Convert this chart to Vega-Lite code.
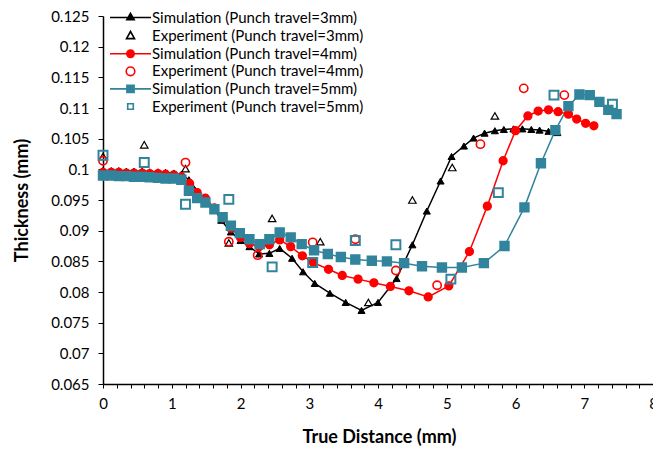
{
  "$schema": "https://vega.github.io/schema/vega-lite/v6.json",
  "width": 550,
  "height": 368,
  "autosize": {"type": "none"},
  "padding": {"left": 103, "top": 16, "right": 0, "bottom": 66},
  "background": "white",
  "config": {
    "view": {"stroke": null},
    "font": "Lato",
    "axis": {"grid": false, "domainColor": "black", "tickColor": "black", "labelColor": "black", "titleColor": "black", "labelFont": "Lato", "titleFont": "Lato"},
    "legend": {
      "title": null,
      "orient": "none",
      "legendX": 20,
      "legendY": -6,
      "padding": 0,
      "symbolSize": 4,
      "symbolOpacity": 1,
      "symbolStrokeWidth": 1.6,
      "labelFont": "Lato",
      "labelFontSize": 15,
      "labelColor": "black",
      "labelOffset": 14,
      "labelLimit": 0,
      "rowPadding": 1.6
    }
  },
  "data": {
    "values": [
      {"s": "Simulation (Punch travel=3mm)", "x": 0, "t": 0.0998},
      {"s": "Simulation (Punch travel=3mm)", "x": 0.12, "t": 0.0998},
      {"s": "Simulation (Punch travel=3mm)", "x": 0.23, "t": 0.0998},
      {"s": "Simulation (Punch travel=3mm)", "x": 0.34, "t": 0.0997},
      {"s": "Simulation (Punch travel=3mm)", "x": 0.45, "t": 0.0997},
      {"s": "Simulation (Punch travel=3mm)", "x": 0.57, "t": 0.0997},
      {"s": "Simulation (Punch travel=3mm)", "x": 0.68, "t": 0.0996},
      {"s": "Simulation (Punch travel=3mm)", "x": 0.8, "t": 0.0996},
      {"s": "Simulation (Punch travel=3mm)", "x": 0.91, "t": 0.0995},
      {"s": "Simulation (Punch travel=3mm)", "x": 1.03, "t": 0.0994},
      {"s": "Simulation (Punch travel=3mm)", "x": 1.14, "t": 0.0992},
      {"s": "Simulation (Punch travel=3mm)", "x": 1.25, "t": 0.0983},
      {"s": "Simulation (Punch travel=3mm)", "x": 1.38, "t": 0.0964},
      {"s": "Simulation (Punch travel=3mm)", "x": 1.49, "t": 0.0951},
      {"s": "Simulation (Punch travel=3mm)", "x": 1.62, "t": 0.0936},
      {"s": "Simulation (Punch travel=3mm)", "x": 1.72, "t": 0.0917},
      {"s": "Simulation (Punch travel=3mm)", "x": 1.86, "t": 0.0898},
      {"s": "Simulation (Punch travel=3mm)", "x": 2.0, "t": 0.0884},
      {"s": "Simulation (Punch travel=3mm)", "x": 2.13, "t": 0.0874},
      {"s": "Simulation (Punch travel=3mm)", "x": 2.27, "t": 0.0862},
      {"s": "Simulation (Punch travel=3mm)", "x": 2.42, "t": 0.0863},
      {"s": "Simulation (Punch travel=3mm)", "x": 2.57, "t": 0.0871},
      {"s": "Simulation (Punch travel=3mm)", "x": 2.75, "t": 0.0855},
      {"s": "Simulation (Punch travel=3mm)", "x": 2.91, "t": 0.0833},
      {"s": "Simulation (Punch travel=3mm)", "x": 3.08, "t": 0.0814},
      {"s": "Simulation (Punch travel=3mm)", "x": 3.3, "t": 0.0798},
      {"s": "Simulation (Punch travel=3mm)", "x": 3.53, "t": 0.0783},
      {"s": "Simulation (Punch travel=3mm)", "x": 3.76, "t": 0.077},
      {"s": "Simulation (Punch travel=3mm)", "x": 4.0, "t": 0.0783},
      {"s": "Simulation (Punch travel=3mm)", "x": 4.27, "t": 0.0822},
      {"s": "Simulation (Punch travel=3mm)", "x": 4.5, "t": 0.0877},
      {"s": "Simulation (Punch travel=3mm)", "x": 4.71, "t": 0.0932},
      {"s": "Simulation (Punch travel=3mm)", "x": 4.91, "t": 0.0981},
      {"s": "Simulation (Punch travel=3mm)", "x": 5.07, "t": 0.1021},
      {"s": "Simulation (Punch travel=3mm)", "x": 5.25, "t": 0.1038},
      {"s": "Simulation (Punch travel=3mm)", "x": 5.39, "t": 0.1051},
      {"s": "Simulation (Punch travel=3mm)", "x": 5.55, "t": 0.1059},
      {"s": "Simulation (Punch travel=3mm)", "x": 5.7, "t": 0.1063},
      {"s": "Simulation (Punch travel=3mm)", "x": 5.83, "t": 0.1065},
      {"s": "Simulation (Punch travel=3mm)", "x": 5.97, "t": 0.1066},
      {"s": "Simulation (Punch travel=3mm)", "x": 6.1, "t": 0.1066},
      {"s": "Simulation (Punch travel=3mm)", "x": 6.23, "t": 0.1065},
      {"s": "Simulation (Punch travel=3mm)", "x": 6.35, "t": 0.1064},
      {"s": "Simulation (Punch travel=3mm)", "x": 6.48, "t": 0.1062},
      {"s": "Simulation (Punch travel=3mm)", "x": 6.61, "t": 0.106},

      {"s": "Experiment (Punch travel=3mm)", "x": 0, "t": 0.1021},
      {"s": "Experiment (Punch travel=3mm)", "x": 0.6, "t": 0.104},
      {"s": "Experiment (Punch travel=3mm)", "x": 1.2, "t": 0.1001},
      {"s": "Experiment (Punch travel=3mm)", "x": 1.83, "t": 0.088},
      {"s": "Experiment (Punch travel=3mm)", "x": 2.46, "t": 0.092},
      {"s": "Experiment (Punch travel=3mm)", "x": 3.16, "t": 0.0882},
      {"s": "Experiment (Punch travel=3mm)", "x": 3.86, "t": 0.0783},
      {"s": "Experiment (Punch travel=3mm)", "x": 4.5, "t": 0.095},
      {"s": "Experiment (Punch travel=3mm)", "x": 5.08, "t": 0.1003},
      {"s": "Experiment (Punch travel=3mm)", "x": 5.7, "t": 0.1087},

      {"s": "Simulation (Punch travel=4mm)", "x": 0, "t": 0.0995},
      {"s": "Simulation (Punch travel=4mm)", "x": 0.12, "t": 0.0995},
      {"s": "Simulation (Punch travel=4mm)", "x": 0.23, "t": 0.0995},
      {"s": "Simulation (Punch travel=4mm)", "x": 0.34, "t": 0.0994},
      {"s": "Simulation (Punch travel=4mm)", "x": 0.45, "t": 0.0994},
      {"s": "Simulation (Punch travel=4mm)", "x": 0.57, "t": 0.0994},
      {"s": "Simulation (Punch travel=4mm)", "x": 0.68, "t": 0.0993},
      {"s": "Simulation (Punch travel=4mm)", "x": 0.8, "t": 0.0993},
      {"s": "Simulation (Punch travel=4mm)", "x": 0.91, "t": 0.0992},
      {"s": "Simulation (Punch travel=4mm)", "x": 1.03, "t": 0.0991},
      {"s": "Simulation (Punch travel=4mm)", "x": 1.14, "t": 0.0988},
      {"s": "Simulation (Punch travel=4mm)", "x": 1.26, "t": 0.0977},
      {"s": "Simulation (Punch travel=4mm)", "x": 1.37, "t": 0.0962},
      {"s": "Simulation (Punch travel=4mm)", "x": 1.49, "t": 0.0953},
      {"s": "Simulation (Punch travel=4mm)", "x": 1.62, "t": 0.0937},
      {"s": "Simulation (Punch travel=4mm)", "x": 1.74, "t": 0.0921},
      {"s": "Simulation (Punch travel=4mm)", "x": 1.86, "t": 0.0904},
      {"s": "Simulation (Punch travel=4mm)", "x": 2.0, "t": 0.0889},
      {"s": "Simulation (Punch travel=4mm)", "x": 2.13, "t": 0.0879},
      {"s": "Simulation (Punch travel=4mm)", "x": 2.27, "t": 0.0874},
      {"s": "Simulation (Punch travel=4mm)", "x": 2.42, "t": 0.0877},
      {"s": "Simulation (Punch travel=4mm)", "x": 2.57, "t": 0.0885},
      {"s": "Simulation (Punch travel=4mm)", "x": 2.73, "t": 0.0874},
      {"s": "Simulation (Punch travel=4mm)", "x": 2.9, "t": 0.0859},
      {"s": "Simulation (Punch travel=4mm)", "x": 3.06, "t": 0.0848},
      {"s": "Simulation (Punch travel=4mm)", "x": 3.28, "t": 0.0837},
      {"s": "Simulation (Punch travel=4mm)", "x": 3.48, "t": 0.0827},
      {"s": "Simulation (Punch travel=4mm)", "x": 3.71, "t": 0.0821},
      {"s": "Simulation (Punch travel=4mm)", "x": 3.94, "t": 0.0815},
      {"s": "Simulation (Punch travel=4mm)", "x": 4.18, "t": 0.0809},
      {"s": "Simulation (Punch travel=4mm)", "x": 4.45, "t": 0.0802},
      {"s": "Simulation (Punch travel=4mm)", "x": 4.73, "t": 0.0792},
      {"s": "Simulation (Punch travel=4mm)", "x": 5.03, "t": 0.081},
      {"s": "Simulation (Punch travel=4mm)", "x": 5.33, "t": 0.0866},
      {"s": "Simulation (Punch travel=4mm)", "x": 5.59, "t": 0.094},
      {"s": "Simulation (Punch travel=4mm)", "x": 5.82, "t": 0.1014},
      {"s": "Simulation (Punch travel=4mm)", "x": 6.0, "t": 0.1063},
      {"s": "Simulation (Punch travel=4mm)", "x": 6.18, "t": 0.1087},
      {"s": "Simulation (Punch travel=4mm)", "x": 6.33, "t": 0.1095},
      {"s": "Simulation (Punch travel=4mm)", "x": 6.48, "t": 0.1097},
      {"s": "Simulation (Punch travel=4mm)", "x": 6.62, "t": 0.1094},
      {"s": "Simulation (Punch travel=4mm)", "x": 6.77, "t": 0.109},
      {"s": "Simulation (Punch travel=4mm)", "x": 6.89, "t": 0.1082},
      {"s": "Simulation (Punch travel=4mm)", "x": 7.02, "t": 0.1075},
      {"s": "Simulation (Punch travel=4mm)", "x": 7.14, "t": 0.1071},

      {"s": "Experiment (Punch travel=4mm)", "x": 0, "t": 0.1014},
      {"s": "Experiment (Punch travel=4mm)", "x": 1.2, "t": 0.1011},
      {"s": "Experiment (Punch travel=4mm)", "x": 1.83, "t": 0.0882},
      {"s": "Experiment (Punch travel=4mm)", "x": 2.25, "t": 0.086},
      {"s": "Experiment (Punch travel=4mm)", "x": 3.05, "t": 0.0881},
      {"s": "Experiment (Punch travel=4mm)", "x": 3.67, "t": 0.0886},
      {"s": "Experiment (Punch travel=4mm)", "x": 4.26, "t": 0.0835},
      {"s": "Experiment (Punch travel=4mm)", "x": 4.86, "t": 0.0811},
      {"s": "Experiment (Punch travel=4mm)", "x": 5.49, "t": 0.1041},
      {"s": "Experiment (Punch travel=4mm)", "x": 6.12, "t": 0.1132},
      {"s": "Experiment (Punch travel=4mm)", "x": 6.71, "t": 0.1121},

      {"s": "Simulation (Punch travel=5mm)", "x": 0, "t": 0.099},
      {"s": "Simulation (Punch travel=5mm)", "x": 0.12, "t": 0.099},
      {"s": "Simulation (Punch travel=5mm)", "x": 0.23, "t": 0.0989},
      {"s": "Simulation (Punch travel=5mm)", "x": 0.34, "t": 0.0989},
      {"s": "Simulation (Punch travel=5mm)", "x": 0.45, "t": 0.0988},
      {"s": "Simulation (Punch travel=5mm)", "x": 0.57, "t": 0.0988},
      {"s": "Simulation (Punch travel=5mm)", "x": 0.68, "t": 0.0987},
      {"s": "Simulation (Punch travel=5mm)", "x": 0.8, "t": 0.0986},
      {"s": "Simulation (Punch travel=5mm)", "x": 0.91, "t": 0.0985},
      {"s": "Simulation (Punch travel=5mm)", "x": 1.03, "t": 0.0985},
      {"s": "Simulation (Punch travel=5mm)", "x": 1.14, "t": 0.0983},
      {"s": "Simulation (Punch travel=5mm)", "x": 1.25, "t": 0.0965},
      {"s": "Simulation (Punch travel=5mm)", "x": 1.37, "t": 0.0953},
      {"s": "Simulation (Punch travel=5mm)", "x": 1.49, "t": 0.0946},
      {"s": "Simulation (Punch travel=5mm)", "x": 1.62, "t": 0.0935},
      {"s": "Simulation (Punch travel=5mm)", "x": 1.74, "t": 0.0922},
      {"s": "Simulation (Punch travel=5mm)", "x": 1.86, "t": 0.0908},
      {"s": "Simulation (Punch travel=5mm)", "x": 1.99, "t": 0.0896},
      {"s": "Simulation (Punch travel=5mm)", "x": 2.13, "t": 0.0886},
      {"s": "Simulation (Punch travel=5mm)", "x": 2.28, "t": 0.0878},
      {"s": "Simulation (Punch travel=5mm)", "x": 2.42, "t": 0.0886},
      {"s": "Simulation (Punch travel=5mm)", "x": 2.57, "t": 0.0897},
      {"s": "Simulation (Punch travel=5mm)", "x": 2.73, "t": 0.0889},
      {"s": "Simulation (Punch travel=5mm)", "x": 2.89, "t": 0.0878},
      {"s": "Simulation (Punch travel=5mm)", "x": 3.07, "t": 0.0868},
      {"s": "Simulation (Punch travel=5mm)", "x": 3.27, "t": 0.0862},
      {"s": "Simulation (Punch travel=5mm)", "x": 3.46, "t": 0.0857},
      {"s": "Simulation (Punch travel=5mm)", "x": 3.67, "t": 0.0853},
      {"s": "Simulation (Punch travel=5mm)", "x": 3.91, "t": 0.0851},
      {"s": "Simulation (Punch travel=5mm)", "x": 4.13, "t": 0.085},
      {"s": "Simulation (Punch travel=5mm)", "x": 4.38, "t": 0.0847},
      {"s": "Simulation (Punch travel=5mm)", "x": 4.64, "t": 0.0842},
      {"s": "Simulation (Punch travel=5mm)", "x": 4.93, "t": 0.084},
      {"s": "Simulation (Punch travel=5mm)", "x": 5.22, "t": 0.084},
      {"s": "Simulation (Punch travel=5mm)", "x": 5.54, "t": 0.0847},
      {"s": "Simulation (Punch travel=5mm)", "x": 5.84, "t": 0.0875},
      {"s": "Simulation (Punch travel=5mm)", "x": 6.13, "t": 0.0938},
      {"s": "Simulation (Punch travel=5mm)", "x": 6.37, "t": 0.101},
      {"s": "Simulation (Punch travel=5mm)", "x": 6.58, "t": 0.1064},
      {"s": "Simulation (Punch travel=5mm)", "x": 6.77, "t": 0.1103},
      {"s": "Simulation (Punch travel=5mm)", "x": 6.93, "t": 0.1122},
      {"s": "Simulation (Punch travel=5mm)", "x": 7.08, "t": 0.1121},
      {"s": "Simulation (Punch travel=5mm)", "x": 7.22, "t": 0.111},
      {"s": "Simulation (Punch travel=5mm)", "x": 7.35, "t": 0.1097},
      {"s": "Simulation (Punch travel=5mm)", "x": 7.47, "t": 0.109},

      {"s": "Experiment (Punch travel=5mm)", "x": 0, "t": 0.1023},
      {"s": "Experiment (Punch travel=5mm)", "x": 0.6, "t": 0.1011},
      {"s": "Experiment (Punch travel=5mm)", "x": 1.2, "t": 0.0943},
      {"s": "Experiment (Punch travel=5mm)", "x": 1.83, "t": 0.0951},
      {"s": "Experiment (Punch travel=5mm)", "x": 2.46, "t": 0.0841},
      {"s": "Experiment (Punch travel=5mm)", "x": 3.05, "t": 0.0848},
      {"s": "Experiment (Punch travel=5mm)", "x": 3.67, "t": 0.0884},
      {"s": "Experiment (Punch travel=5mm)", "x": 4.26, "t": 0.0877},
      {"s": "Experiment (Punch travel=5mm)", "x": 5.06, "t": 0.0821},
      {"s": "Experiment (Punch travel=5mm)", "x": 5.75, "t": 0.0962},
      {"s": "Experiment (Punch travel=5mm)", "x": 6.56, "t": 0.1121},
      {"s": "Experiment (Punch travel=5mm)", "x": 7.41, "t": 0.1106}
    ]
  },
  "encoding": {
    "x": {
      "field": "x", "type": "quantitative",
      "scale": {"domain": [0, 8], "nice": false, "zero": false},
      "axis": {
        "title": "True Distance (mm)",
        "values": [0, 0.2, 0.4, 0.6, 0.8, 1, 1.2, 1.4, 1.6, 1.8, 2, 2.2, 2.4, 2.6, 2.8, 3, 3.2, 3.4, 3.6, 3.8, 4, 4.2, 4.4, 4.6, 4.8, 5, 5.2, 5.4, 5.6, 5.8, 6, 6.2, 6.4, 6.6, 6.8, 7, 7.2, 7.4, 7.6, 7.8, 8],
        "format": "~g",
        "labelExpr": "round(datum.value * 10) % 10 === 0 ? datum.label : ''",
        "labelOverlap": false,
        "labelFlush": false,
        "labelFontSize": 15,
        "labelPadding": 8,
        "tickSize": 4,
        "tickWidth": 1,
        "domainWidth": 1.5,
        "titleFontSize": 18,
        "titleFontWeight": "bold",
        "titleBaseline": "middle",
        "titleX": 276,
        "titleY": 53
      }
    },
    "y": {
      "field": "t", "type": "quantitative",
      "scale": {"domain": [0.065, 0.125], "nice": false, "zero": false},
      "axis": {
        "title": "Thickness (mm)",
        "values": [0.065, 0.07, 0.075, 0.08, 0.085, 0.09, 0.095, 0.1, 0.105, 0.11, 0.115, 0.12, 0.125],
        "format": "~g",
        "labelFontSize": 15,
        "labelPadding": 9,
        "tickSize": 5,
        "tickWidth": 1,
        "domainWidth": 1.5,
        "titleFontSize": 18,
        "titleFontWeight": "bold",
        "titleBaseline": "middle",
        "titleX": -81,
        "titleY": 184
      }
    }
  },
  "layer": [
    {
      "transform": [{"filter": "indexof(datum.s, 'Simulation') === 0"}],
      "mark": {"type": "line", "strokeWidth": 1.5},
      "encoding": {
        "color": {
          "field": "s", "type": "nominal",
          "scale": {
            "domain": ["Simulation (Punch travel=3mm)", "Simulation (Punch travel=4mm)", "Simulation (Punch travel=5mm)"],
            "range": ["#000000", "#FF0000", "#31849B"]
          },
          "legend": null
        }
      }
    },
    {
      "mark": {"type": "point", "opacity": 1},
      "encoding": {
        "shape": {
          "field": "s", "type": "nominal",
          "scale": {
            "domain": ["Simulation (Punch travel=3mm)", "Experiment (Punch travel=3mm)", "Simulation (Punch travel=4mm)", "Experiment (Punch travel=4mm)", "Simulation (Punch travel=5mm)", "Experiment (Punch travel=5mm)"],
            "range": ["triangle-up", "triangle-up", "circle", "circle", "square", "square"]
          },
          "legend": null
        },
        "fill": {
          "field": "s", "type": "nominal",
          "scale": {
            "domain": ["Simulation (Punch travel=3mm)", "Experiment (Punch travel=3mm)", "Simulation (Punch travel=4mm)", "Experiment (Punch travel=4mm)", "Simulation (Punch travel=5mm)", "Experiment (Punch travel=5mm)"],
            "range": ["#000000", "transparent", "#FF0000", "transparent", "#31849B", "transparent"]
          },
          "legend": null
        },
        "stroke": {
          "field": "s", "type": "nominal",
          "scale": {
            "domain": ["Simulation (Punch travel=3mm)", "Experiment (Punch travel=3mm)", "Simulation (Punch travel=4mm)", "Experiment (Punch travel=4mm)", "Simulation (Punch travel=5mm)", "Experiment (Punch travel=5mm)"],
            "range": ["#000000", "#000000", "#FF0000", "#FF0000", "#31849B", "#31849B"]
          },
          "legend": null
        },
        "size": {
          "field": "s", "type": "nominal",
          "scale": {
            "domain": ["Simulation (Punch travel=3mm)", "Experiment (Punch travel=3mm)", "Simulation (Punch travel=4mm)", "Experiment (Punch travel=4mm)", "Simulation (Punch travel=5mm)", "Experiment (Punch travel=5mm)"],
            "range": [50, 80, 44, 64, 46, 30]
          },
          "legend": null
        },
        "strokeWidth": {
          "field": "s", "type": "nominal",
          "scale": {
            "domain": ["Simulation (Punch travel=3mm)", "Experiment (Punch travel=3mm)", "Simulation (Punch travel=4mm)", "Experiment (Punch travel=4mm)", "Simulation (Punch travel=5mm)", "Experiment (Punch travel=5mm)"],
            "range": [1, 2, 1, 2, 1, 2]
          },
          "legend": null
        }
      }
    },
    {
      "mark": {"type": "point", "opacity": 0},
      "encoding": {
        "shape": {
          "field": "s", "type": "nominal",
          "scale": {
            "domain": ["Simulation (Punch travel=3mm)", "Experiment (Punch travel=3mm)", "Simulation (Punch travel=4mm)", "Experiment (Punch travel=4mm)", "Simulation (Punch travel=5mm)", "Experiment (Punch travel=5mm)"],
            "range": [
              "M-20.5,0H20.5M0,-4.2L3.7,2.3L-3.7,2.3Z",
              "M-20.5,0M20.5,0M0,-4.6L4,2.5L-4,2.5Z",
              "M-20.5,0H20.5M-3.7,0A3.7,3.7 0 1,0 3.7,0A3.7,3.7 0 1,0 -3.7,0Z",
              "M-20.5,0M20.5,0M-4.3,0A4.3,4.3 0 1,0 4.3,0A4.3,4.3 0 1,0 -4.3,0Z",
              "M-20.5,0H20.5M-3.6,-3.6H3.6V3.6H-3.6Z",
              "M-20.5,0M20.5,0M-2.8,-2.8H2.8V2.8H-2.8Z"
            ]
          }
        },
        "fill": {
          "field": "s", "type": "nominal",
          "scale": {
            "domain": ["Simulation (Punch travel=3mm)", "Experiment (Punch travel=3mm)", "Simulation (Punch travel=4mm)", "Experiment (Punch travel=4mm)", "Simulation (Punch travel=5mm)", "Experiment (Punch travel=5mm)"],
            "range": ["#000000", "transparent", "#FF0000", "transparent", "#31849B", "transparent"]
          }
        },
        "stroke": {
          "field": "s", "type": "nominal",
          "scale": {
            "domain": ["Simulation (Punch travel=3mm)", "Experiment (Punch travel=3mm)", "Simulation (Punch travel=4mm)", "Experiment (Punch travel=4mm)", "Simulation (Punch travel=5mm)", "Experiment (Punch travel=5mm)"],
            "range": ["#000000", "#000000", "#FF0000", "#FF0000", "#31849B", "#31849B"]
          }
        }
      }
    }
  ],
  "resolve": {"scale": {"shape": "independent", "fill": "independent", "stroke": "independent"}}
}
